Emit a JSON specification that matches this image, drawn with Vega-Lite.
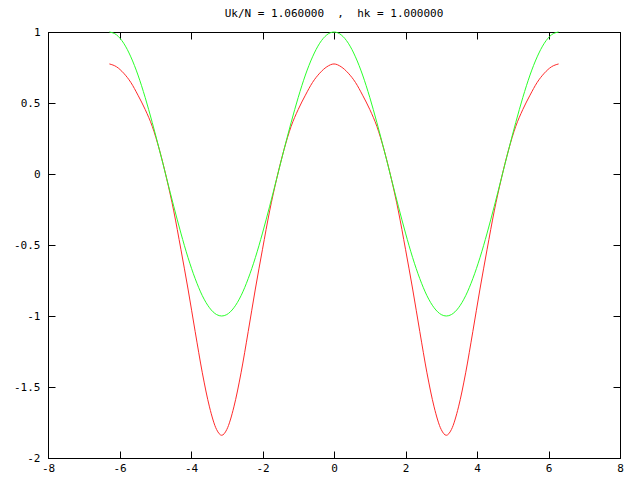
{
  "$schema": "https://vega.github.io/schema/vega-lite/v6.json",
  "width": 572,
  "height": 426,
  "autosize": {"type": "none"},
  "padding": {"left": 48, "top": 32, "right": 20, "bottom": 22},
  "background": "white",
  "title": {
    "text": "Uk/N = 1.060000 \u00a0, \u00a0hk = 1.000000",
    "font": "DejaVu Sans Mono",
    "fontSize": 11,
    "fontWeight": "normal",
    "color": "black",
    "offset": 7,
    "anchor": "middle"
  },
  "config": {
    "view": {"stroke": "black", "strokeWidth": 1},
    "axis": {
      "grid": false,
      "domainColor": "black",
      "tickColor": "black",
      "labelColor": "black",
      "labelFont": "DejaVu Sans Mono",
      "labelFontSize": 11,
      "title": null,
      "tickSize": -7,
      "labelFlush": false,
      "labelOverlap": false
    }
  },
  "data": {
    "values": [
      {"x": -6.2832, "red": 0.775, "green": 1.0},
      {"x": -6.0832, "red": 0.755, "green": 0.98},
      {"x": -5.8832, "red": 0.71, "green": 0.921},
      {"x": -5.6832, "red": 0.645, "green": 0.825},
      {"x": -5.4832, "red": 0.555, "green": 0.697},
      {"x": -5.2832, "red": 0.455, "green": 0.54},
      {"x": -5.0832, "red": 0.335, "green": 0.362},
      {"x": -4.8832, "red": 0.17, "green": 0.17},
      {"x": -4.6832, "red": -0.03, "green": -0.029},
      {"x": -4.4832, "red": -0.26, "green": -0.227},
      {"x": -4.2832, "red": -0.53, "green": -0.416},
      {"x": -4.0832, "red": -0.81, "green": -0.589},
      {"x": -3.8832, "red": -1.11, "green": -0.737},
      {"x": -3.6832, "red": -1.4, "green": -0.857},
      {"x": -3.4832, "red": -1.64, "green": -0.942},
      {"x": -3.2832, "red": -1.8, "green": -0.99},
      {"x": -3.1416, "red": -1.84, "green": -1.0},
      {"x": -3.0, "red": -1.8, "green": -0.99},
      {"x": -2.8, "red": -1.64, "green": -0.942},
      {"x": -2.6, "red": -1.4, "green": -0.857},
      {"x": -2.4, "red": -1.11, "green": -0.737},
      {"x": -2.2, "red": -0.81, "green": -0.589},
      {"x": -2.0, "red": -0.53, "green": -0.416},
      {"x": -1.8, "red": -0.26, "green": -0.227},
      {"x": -1.6, "red": -0.03, "green": -0.029},
      {"x": -1.4, "red": 0.17, "green": 0.17},
      {"x": -1.2, "red": 0.335, "green": 0.362},
      {"x": -1.0, "red": 0.455, "green": 0.54},
      {"x": -0.8, "red": 0.555, "green": 0.697},
      {"x": -0.6, "red": 0.645, "green": 0.825},
      {"x": -0.4, "red": 0.71, "green": 0.921},
      {"x": -0.2, "red": 0.755, "green": 0.98},
      {"x": 0.0, "red": 0.775, "green": 1.0},
      {"x": 0.2, "red": 0.755, "green": 0.98},
      {"x": 0.4, "red": 0.71, "green": 0.921},
      {"x": 0.6, "red": 0.645, "green": 0.825},
      {"x": 0.8, "red": 0.555, "green": 0.697},
      {"x": 1.0, "red": 0.455, "green": 0.54},
      {"x": 1.2, "red": 0.335, "green": 0.362},
      {"x": 1.4, "red": 0.17, "green": 0.17},
      {"x": 1.6, "red": -0.03, "green": -0.029},
      {"x": 1.8, "red": -0.26, "green": -0.227},
      {"x": 2.0, "red": -0.53, "green": -0.416},
      {"x": 2.2, "red": -0.81, "green": -0.589},
      {"x": 2.4, "red": -1.11, "green": -0.737},
      {"x": 2.6, "red": -1.4, "green": -0.857},
      {"x": 2.8, "red": -1.64, "green": -0.942},
      {"x": 3.0, "red": -1.8, "green": -0.99},
      {"x": 3.1416, "red": -1.84, "green": -1.0},
      {"x": 3.2832, "red": -1.8, "green": -0.99},
      {"x": 3.4832, "red": -1.64, "green": -0.942},
      {"x": 3.6832, "red": -1.4, "green": -0.857},
      {"x": 3.8832, "red": -1.11, "green": -0.737},
      {"x": 4.0832, "red": -0.81, "green": -0.589},
      {"x": 4.2832, "red": -0.53, "green": -0.416},
      {"x": 4.4832, "red": -0.26, "green": -0.227},
      {"x": 4.6832, "red": -0.03, "green": -0.029},
      {"x": 4.8832, "red": 0.17, "green": 0.17},
      {"x": 5.0832, "red": 0.335, "green": 0.362},
      {"x": 5.2832, "red": 0.455, "green": 0.54},
      {"x": 5.4832, "red": 0.555, "green": 0.697},
      {"x": 5.6832, "red": 0.645, "green": 0.825},
      {"x": 5.8832, "red": 0.71, "green": 0.921},
      {"x": 6.0832, "red": 0.755, "green": 0.98},
      {"x": 6.2832, "red": 0.775, "green": 1.0}
    ]
  },
  "resolve": {"axis": {"x": "independent", "y": "independent"}},
  "layer": [
    {
      "mark": {"type": "line", "color": "#ff2a2a", "strokeWidth": 1, "interpolate": "monotone"},
      "encoding": {
        "x": {
          "field": "x", "type": "quantitative",
          "scale": {"domain": [-8, 8], "nice": false, "zero": false},
          "axis": {"orient": "bottom", "values": [-8, -6, -4, -2, 0, 2, 4, 6, 8], "labelPadding": 11, "labelExpr": "toString(datum.value)"}
        },
        "y": {
          "field": "red", "type": "quantitative",
          "scale": {"domain": [-2, 1], "nice": false, "zero": false},
          "axis": {"orient": "left", "values": [-2, -1.5, -1, -0.5, 0, 0.5, 1], "labelPadding": 15, "labelExpr": "toString(datum.value)"}
        }
      }
    },
    {
      "mark": {"type": "line", "color": "#2aff2a", "strokeWidth": 1, "interpolate": "monotone"},
      "encoding": {
        "x": {
          "field": "x", "type": "quantitative",
          "axis": {"orient": "top", "values": [-8, -6, -4, -2, 0, 2, 4, 6, 8], "labels": false}
        },
        "y": {
          "field": "green", "type": "quantitative",
          "axis": {"orient": "right", "values": [-2, -1.5, -1, -0.5, 0, 0.5, 1], "labels": false}
        }
      }
    }
  ]
}
